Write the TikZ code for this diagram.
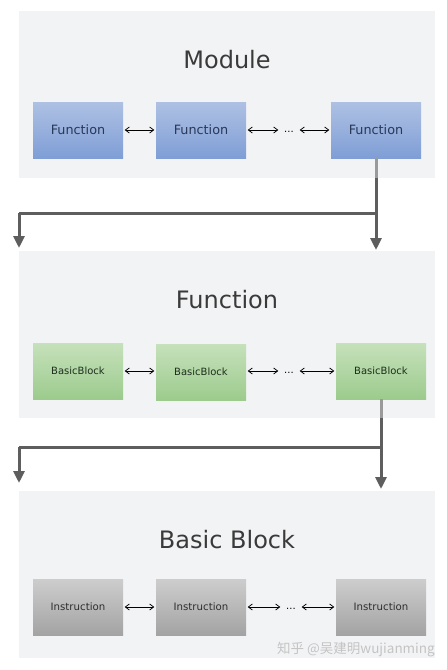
\documentclass[tikz,border=0pt]{standalone}
\usepackage{fontspec}
\setmainfont{DejaVu Sans}
\newfontfamily\cjkfont{Noto Sans CJK SC}
\usetikzlibrary{arrows.meta}
\definecolor{panelbg}{HTML}{F2F3F5}
\definecolor{bluetop}{HTML}{AEC1E3}
\definecolor{bluebot}{HTML}{7F9ED6}
\definecolor{greentop}{HTML}{C6E1BB}
\definecolor{greenbot}{HTML}{9CCB8D}
\definecolor{graytop}{HTML}{CDCDCD}
\definecolor{graybot}{HTML}{A3A3A3}
\definecolor{titlecol}{HTML}{3A3A3A}
\definecolor{linkdark}{HTML}{5E5E5E}
\definecolor{linklight}{HTML}{9A9A9A}
\definecolor{wmark}{HTML}{C4C4C4}
\definecolor{bluetext}{HTML}{2A3858}
\definecolor{greentext}{HTML}{1E2E1C}
\definecolor{graytext}{HTML}{2E2E2E}
\tikzset{
  ptitle/.style={font=\fontsize{24}{28}\selectfont, text=titlecol},
  boxbase/.style={minimum width=90pt, minimum height=56pt, inner sep=0pt, draw=none},
  bluebox/.style={boxbase, top color=bluetop, bottom color=bluebot, text=bluetext, font=\fontsize{12.8}{14}\selectfont},
  greenbox/.style={boxbase, top color=greentop, bottom color=greenbot, text=greentext, font=\fontsize{10}{12}\selectfont},
  graybox/.style={boxbase, top color=graytop, bottom color=graybot, text=graytext, font=\fontsize{10.2}{12}\selectfont},
  dotsnode/.style={minimum width=18pt, inner sep=0pt, text height=7pt, text depth=2pt, font=\fontsize{10}{12}\selectfont},
  link/.style={<->, >={Straight Barb[length=4pt,width=6pt]}, line width=0.75pt, black, shorten <=1.5pt, shorten >=1.5pt},
  flow/.style={line width=3pt, linkdark},
  flowarrow/.style={flow, -{Triangle[width=11pt,length=12pt]}},
}
\begin{document}
\begin{tikzpicture}[x=1pt,y=-1pt]
\useasboundingbox (0,0) rectangle (447,670);
\fill[white] (0,0) rectangle (447,670);

% panels
\fill[panelbg] (19,11) rectangle (435,178);
\fill[panelbg] (19,251) rectangle (435,418);
\fill[panelbg] (19,491) rectangle (435,658);

% panel 1
\node[ptitle] (t1) at (227,60) {Module};
\node[bluebox] (f1) at (78,130) {Function};
\node[bluebox] (f2) at (201,130) {Function};
\node[bluebox] (f3) at (376,130) {Function};
\node[dotsnode] (d1) at (289,130) {...};
\draw[link] (f1) -- (f2);
\draw[link] (f2.east) -- (d1.west |- f2.east);
\draw[link] (d1.east |- f3.west) -- (f3.west);

% panel 2
\node[ptitle] (t2) at (227,300) {Function};
\node[greenbox] (b1) at (78,371) {BasicBlock};
\node[greenbox] (b2) at (201,372) {BasicBlock};
\node[greenbox] (b3) at (381,371) {BasicBlock};
\node[dotsnode] (d2) at (289,371) {...};
\draw[link] (b1) -- (b1 -| b2.west);
\draw[link] (b2.east |- b1) -- (d2.west);
\draw[link] (d2.east) -- (b3.west);

% panel 3
\node[ptitle] (t3) at (227,540) {Basic Block};
\node[graybox] (i1) at (78,607) {Instruction};
\node[graybox] (i2) at (201,607) {Instruction};
\node[graybox] (i3) at (381,607) {Instruction};
\node[dotsnode] (d3) at (291,607) {...};
\draw[link] (i1) -- (i2);
\draw[link] (i2.east) -- (d3.west);
\draw[link] (d3.east) -- (i3.west);

% connectors 1
\coordinate (j1) at (376,213);
\coordinate (l1) at (19,213);
\coordinate (l1e) at (19,248);
\coordinate (r1e) at (376,250);
\draw[flow, linklight] (f3.south) -- (376,178);
\draw[flow] (376,178) -- (j1) -- (l1);
\draw[flowarrow] (l1) -- (l1e);
\draw[flowarrow] (j1) -- (r1e);

% connectors 2
\coordinate (j2) at (381,447);
\coordinate (l2) at (19,447);
\coordinate (l2e) at (19,483);
\coordinate (r2e) at (381,489);
\draw[flow, linklight] (b3.south) -- (381,418);
\draw[flow] (381,418) -- (j2) -- (l2);
\draw[flowarrow] (l2) -- (l2e);
\draw[flowarrow] (j2) -- (r2e);

% watermark
\node[anchor=east, text=wmark, font=\cjkfont\fontsize{13.5}{15}\selectfont, inner sep=0pt] (wm) at (435,650) {知乎 @吴建明wujianming};
\end{tikzpicture}
\end{document}
